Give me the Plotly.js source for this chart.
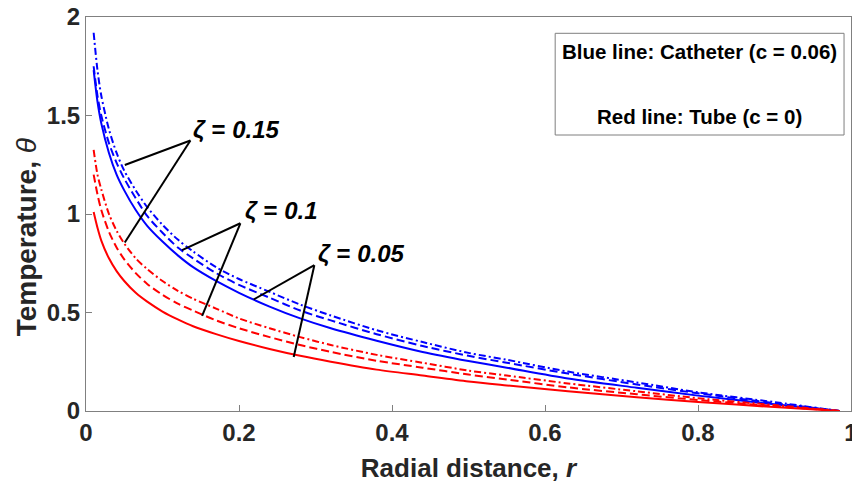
<!DOCTYPE html>
<html>
<head>
<meta charset="utf-8">
<script src="https://cdn.plot.ly/plotly-3.0.1.min.js"></script>
<style>html,body{margin:0;padding:0;background:#fff;}#chart{width:852px;height:496px;}</style>
</head>
<body>
<div id="chart"></div>
<script>
// radial distance samples
const r = [0.01, 0.015, 0.02, 0.03, 0.04, 0.05, 0.065, 0.08, 0.1, 0.12, 0.14, 0.17, 0.2, 0.24, 0.28, 0.32, 0.38, 0.44, 0.5, 0.55, 0.63, 0.72, 0.8, 0.9, 0.985];
// Catheter (c = 0.06), blue
const blueZeta005 = [1.73, 1.57, 1.46, 1.31, 1.20, 1.12, 1.02, 0.94, 0.86, 0.79, 0.73, 0.66, 0.60, 0.53, 0.47, 0.42, 0.357, 0.30, 0.254, 0.22, 0.165, 0.118, 0.078, 0.034, 0];
const blueZeta010 = [1.75, 1.60, 1.50, 1.36, 1.26, 1.18, 1.08, 0.99, 0.905, 0.83, 0.775, 0.70, 0.64, 0.575, 0.51, 0.46, 0.39, 0.33, 0.28, 0.245, 0.19, 0.135, 0.09, 0.04, 0];
const blueZeta015 = [1.92, 1.73, 1.60, 1.43, 1.31, 1.22, 1.12, 1.035, 0.945, 0.87, 0.81, 0.73, 0.67, 0.605, 0.54, 0.485, 0.41, 0.35, 0.295, 0.26, 0.20, 0.145, 0.095, 0.045, 0];
// Tube (c = 0), red
const redZeta005 = [1.01, 0.93, 0.865, 0.775, 0.71, 0.66, 0.60, 0.555, 0.505, 0.465, 0.43, 0.39, 0.355, 0.315, 0.28, 0.25, 0.21, 0.18, 0.15, 0.13, 0.10, 0.07, 0.046, 0.02, 0];
const redZeta010 = [1.20, 1.10, 1.02, 0.91, 0.83, 0.77, 0.70, 0.645, 0.59, 0.545, 0.51, 0.46, 0.42, 0.375, 0.335, 0.30, 0.255, 0.22, 0.185, 0.16, 0.12, 0.085, 0.056, 0.025, 0];
const redZeta015 = [1.325, 1.20, 1.125, 1.00, 0.915, 0.85, 0.775, 0.72, 0.66, 0.61, 0.57, 0.52, 0.47, 0.42, 0.375, 0.335, 0.285, 0.245, 0.205, 0.18, 0.14, 0.10, 0.065, 0.03, 0];

// labels for zeta groups
const zetaLabels = ['0.15', '0.1', '0.05'];
const labelPos = [[0.137, 1.43], [0.205, 1.02], [0.301, 0.80]];
const apex = [[0.1365, 1.373], [0.2018, 0.953], [0.2985, 0.740]];
const blueTip = [[0.0507, 1.249], [0.1256, 0.817], [0.2192, 0.566]];
const redTip = [[0.0507, 0.855], [0.1518, 0.483], [0.2715, 0.274]];

const legendLines = ['Blue line: Catheter (c = 0.06)', 'Red line: Tube (c = 0)'];

const DASH = '8px,4px';
const DASHDOT = '7px,3px,2px,3px';
function tr(y, color, dash) {
  return {x: r, y: y, type: 'scatter', mode: 'lines',
    line: {color: color, width: 2, dash: dash, shape: 'spline', smoothing: 0.8},
    hoverinfo: 'skip', showlegend: false};
}
const data = [
  tr(blueZeta005, '#0000ff', 'solid'),
  tr(blueZeta010, '#0000ff', DASH),
  tr(blueZeta015, '#0000ff', DASHDOT),
  tr(redZeta005, '#ff0000', 'solid'),
  tr(redZeta010, '#ff0000', DASH),
  tr(redZeta015, '#ff0000', DASHDOT)
];

const FONT = 'Liberation Sans, Arial, sans-serif';
const shapes = [];
const annotations = [];
for (let i = 0; i < zetaLabels.length; i++) {
  [blueTip[i], redTip[i]].forEach(function (t) {
    shapes.push({type: 'line', xref: 'x', yref: 'y', x0: apex[i][0], y0: apex[i][1], x1: t[0], y1: t[1],
      line: {color: '#000', width: 2}});
  });
  annotations.push({xref: 'x', yref: 'y', x: labelPos[i][0], y: labelPos[i][1], xanchor: 'left', yanchor: 'middle',
    text: '<b><i>ζ</i> = <i>' + zetaLabels[i] + '</i></b>', showarrow: false,
    font: {family: FONT, size: 24, color: '#000'}});
}
// legend-like box
shapes.push({type: 'rect', xref: 'paper', yref: 'paper', x0: 0.6133, x1: 0.9909, y0: 0.7005, y1: 0.9586,
  line: {color: '#7f7f7f', width: 1}, fillcolor: '#fff', layer: 'above'});
annotations.push({xref: 'paper', yref: 'paper', x: 0.8014, y: 0.912, xanchor: 'center', yanchor: 'middle',
  text: '<b>' + legendLines[0] + '</b>', showarrow: false,
  font: {family: FONT, size: 20.5, color: '#000'}});
annotations.push({xref: 'paper', yref: 'paper', x: 0.8014, y: 0.747, xanchor: 'center', yanchor: 'middle',
  text: '<b>' + legendLines[1] + '</b>', showarrow: false,
  font: {family: FONT, size: 20.5, color: '#000'}});
// y axis title
annotations.push({xref: 'paper', yref: 'paper', x: -0.0775, y: 0.44, xanchor: 'center', yanchor: 'middle',
  textangle: -90, text: '<b>Temperature,</b> <i>θ</i>', showarrow: false,
  font: {family: FONT, size: 28, color: '#262626'}});

const layout = {
  width: 852, height: 496,
  margin: {l: 85.5, r: 1, t: 17, b: 85, pad: 0},
  paper_bgcolor: '#fff', plot_bgcolor: '#fff',
  font: {family: FONT, color: '#262626'},
  xaxis: {range: [0, 1], dtick: 0.2, tick0: 0, showgrid: false, zeroline: false,
    showline: true, linecolor: '#808080', linewidth: 1, mirror: true,
    ticks: 'inside', ticklen: 6, tickcolor: '#808080', tickwidth: 1,
    ticklabeloverflow: 'allow',
    tickfont: {size: 24, weight: 'bold', color: '#262626'},
    title: {text: '<b>Radial distance, <i>r</i></b>', font: {size: 26, color: '#262626'}, standoff: 14}},
  yaxis: {range: [0, 2], dtick: 0.5, tick0: 0, showgrid: false, zeroline: false,
    showline: true, linecolor: '#808080', linewidth: 1, mirror: true,
    ticks: 'inside', ticklen: 6, tickcolor: '#808080', tickwidth: 1,
    ticklabeloverflow: 'allow',
    tickfont: {size: 24, weight: 'bold', color: '#262626'}},
  shapes: shapes,
  annotations: annotations
};
Plotly.newPlot('chart', data, layout, {displayModeBar: false, staticPlot: true});
</script>
</body>
</html>
